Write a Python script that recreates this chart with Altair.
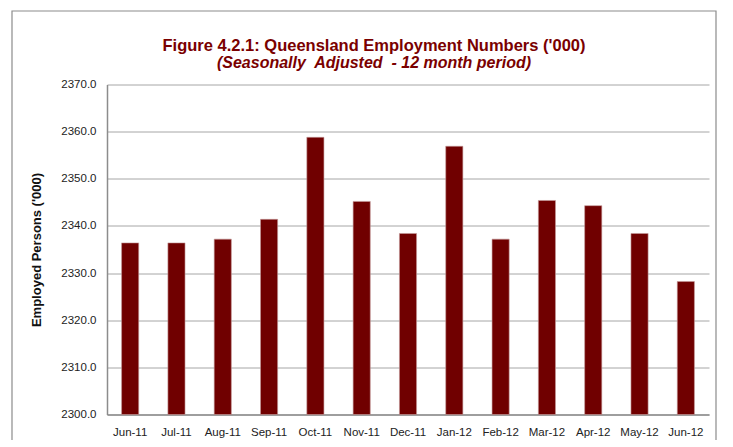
import altair as alt
import pandas as pd

months = ["Jun-11", "Jul-11", "Aug-11", "Sep-11", "Oct-11", "Nov-11", "Dec-11",
          "Jan-12", "Feb-12", "Mar-12", "Apr-12", "May-12", "Jun-12"]
employed = [2336.4, 2336.4, 2337.2, 2341.4, 2358.8, 2345.2, 2338.4,
            2356.9, 2337.2, 2345.4, 2344.3, 2338.4, 2328.2]
y_ticks = [2300, 2310, 2320, 2330, 2340, 2350, 2360, 2370]
title_text = "Figure 4.2.1: Queensland Employment Numbers ('000)"
subtitle_text = "(Seasonally\u00a0 Adjusted\u00a0 - 12 month period)"

df = pd.DataFrame({"month": months, "employed": employed})
tdf = pd.DataFrame({"title": [title_text], "subtitle": [subtitle_text]})

W, H = 602, 330
DARK_RED = "#7A0000"
AXIS_GREY = "#8C8C8C"

bars = alt.Chart(df).mark_bar(
    color="#700000", stroke="#C49A9A", strokeWidth=0.6
).encode(
    x=alt.X("month:N", sort=months,
            scale=alt.Scale(paddingInner=0.63, paddingOuter=0.315),
            axis=alt.Axis(title=None, labelAngle=0, ticks=False, grid=False,
                          labelPadding=12, labelFont="Liberation Sans",
                          labelFontSize=11.5, labelColor="#222",
                          domainColor=AXIS_GREY, domainWidth=1.5)),
    y=alt.Y("employed:Q",
            scale=alt.Scale(domain=[2300, 2370], zero=False, nice=False),
            axis=alt.Axis(title="Employed Persons ('000)", values=y_ticks,
                          format=".1f", ticks=False, labelPadding=11,
                          labelFont="Liberation Sans", labelFontSize=11.5,
                          labelColor="#222", gridColor="#A6A6A6", gridWidth=1,
                          domainColor=AXIS_GREY, domainWidth=1.5,
                          titleFont="Liberation Sans", titleFontSize=13,
                          titleFontWeight="bold", titleColor="#111",
                          titleAngle=270, titleX=-71, titleY=H / 2,
                          titleAlign="center", titleBaseline="middle")),
    y2=alt.datum(2300),
)

# chart-area frame (Excel-style border around the whole chart)
frame = alt.Chart(tdf).mark_rect(
    fill=None, stroke="#8C8C8C", strokeWidth=1.2
).encode(
    x=alt.value(-95), x2=alt.value(609), y=alt.value(-73.5), y2=alt.value(420)
)

title = alt.Chart(tdf).mark_text(
    font="Liberation Sans", fontSize=16.5, fontWeight="bold", color=DARK_RED,
    align="center", baseline="alphabetic"
).encode(text="title:N", x=alt.value(267), y=alt.value(-34))

subtitle = alt.Chart(tdf).mark_text(
    font="Liberation Sans", fontSize=16, fontWeight="bold", fontStyle="italic",
    color=DARK_RED, align="center", baseline="alphabetic"
).encode(text="subtitle:N", x=alt.value(267), y=alt.value(-17))

chart = alt.layer(frame, bars, title, subtitle).properties(
    width=W, height=H,
    autosize=alt.AutoSizeParams(type="none"),
    padding={"left": 99, "top": 76.5, "right": 16, "bottom": 25.5},
).configure_view(stroke=None)

chart.save("out.html", embed_options={"renderer": "svg", "actions": False})
